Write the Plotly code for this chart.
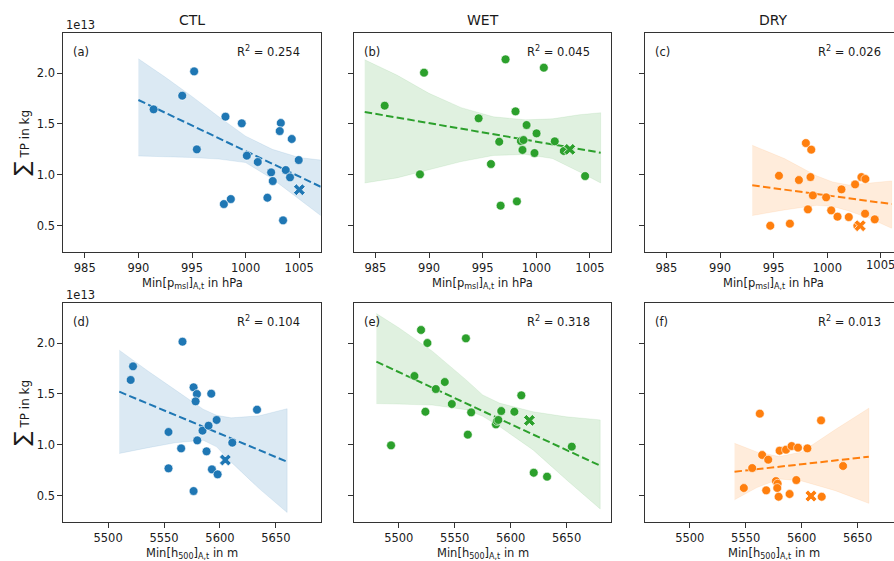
import plotly.graph_objects as go

W, H = 894, 561

# ---------------- data (TP in units of 1e13 kg) ----------------
# top row: Min p_msl (hPa)
ctl_pmsl = [991.42, 994.09, 995.2, 995.45, 998.12, 997.97, 998.62, 999.64, 1000.11, 1001.13,
            1002.03, 1002.38, 1002.53, 1003.28, 1003.18, 1003.49, 1003.74, 1004.14, 1004.30, 1004.95]
ctl_tp_p = [1.643, 1.777, 2.016, 1.25, 1.571, 0.713, 0.762, 1.506, 1.188, 1.126,
            0.775, 1.024, 0.939, 1.509, 1.430, 0.553, 1.047, 0.975, 1.352, 1.145]
ctl_cross_p = (1005.01, 0.854)

wet_pmsl = [985.86, 989.53, 989.15, 994.62, 995.77, 996.54, 996.67, 997.13, 998.06, 998.19,
            998.56, 998.81, 998.71, 999.09, 999.83, 1000.02, 1000.70, 1001.72, 1002.56, 1004.55]
wet_tp_p = [1.679, 2.003, 1.005, 1.555, 1.106, 1.325, 0.697, 2.134, 1.623, 0.739,
            1.332, 1.342, 1.244, 1.489, 1.214, 1.407, 2.052, 1.329, 1.234, 0.988]
wet_cross_p = (1003.12, 1.250)

dry_pmsl = [994.68, 995.49, 996.51, 997.35, 998.0, 998.5, 998.43, 998.19, 998.65, 999.89,
            1000.36, 1000.95, 1001.32, 1002.0, 1002.59, 1003.18, 1003.55, 1003.52, 1004.42, 1002.8]
dry_tp_p = [0.500, 0.991, 0.520, 0.949, 1.312, 1.247, 0.978, 0.661, 0.798, 0.779,
            0.651, 0.589, 0.857, 0.585, 0.906, 0.978, 0.959, 0.618, 0.563, 0.50]
dry_cross_p = (1003.06, 0.500)

# bottom row: Min h500 (m)
ctl_h500 = [5520.2, 5522.3, 5554.0, 5554.0, 5566.5, 5565.3, 5576.4, 5579.4, 5578.2, 5576.4,
            5579.7, 5584.4, 5589.8, 5588.0, 5592.2, 5592.8, 5597.0, 5597.9, 5611.0, 5633.1]
ctl_tp_h = [1.637, 1.771, 1.126, 0.769, 2.013, 0.965, 1.565, 1.499, 1.427, 0.546,
            1.044, 1.139, 1.188, 0.936, 1.502, 0.759, 1.244, 0.710, 1.021, 1.345]
ctl_cross_h = (5604.8, 0.851)

wet_h500 = [5493.1, 5514.0, 5519.9, 5525.6, 5523.8, 5533.1, 5541.1, 5547.4, 5560.0, 5561.7,
            5564.7, 5586.8, 5587.7, 5589.0, 5591.6, 5603.3, 5609.5, 5620.6, 5632.5, 5654.6]
wet_tp_h = [0.995, 1.676, 2.128, 2.0, 1.325, 1.548, 1.617, 1.401, 2.046, 1.100,
            1.319, 1.201, 1.234, 1.244, 1.332, 1.325, 1.486, 0.726, 0.687, 0.982]
wet_cross_h = (5616.7, 1.240)

dry_h500 = [5548.3, 5555.8, 5562.6, 5564.7, 5568.3, 5570.1, 5577.0, 5578.5, 5578.2, 5579.4,
            5580.3, 5586.0, 5589.2, 5591.0, 5595.2, 5596.7, 5605.1, 5617.3, 5617.9, 5637.0]
dry_tp_h = [0.576, 0.772, 1.306, 0.900, 0.553, 0.854, 0.644, 0.618, 0.576, 0.490,
            0.942, 0.952, 0.517, 0.988, 0.654, 0.972, 0.965, 1.240, 0.490, 0.792]
dry_cross_h = (5608.3, 0.497)

# regression lines (end points) and confidence bands
fit_a_x, fit_a_y = [990, 1007], [1.735, 0.883]
band_a_x = [990, 992.5, 995, 997.5, 1000, 1002.5, 1005, 1007]
band_a_hi = [2.14, 1.96, 1.77, 1.57, 1.38, 1.25, 1.17, 1.145]
band_a_lo = [1.185, 1.18, 1.17, 1.155, 1.12, 0.96, 0.76, 0.60]

fit_b_x, fit_b_y = [984, 1006], [1.617, 1.217]
band_b_x = [984, 987, 990, 993, 996, 999, 1001.5, 1004, 1006]
band_b_hi = [2.13, 1.98, 1.80, 1.66, 1.57, 1.54, 1.55, 1.59, 1.61]
band_b_lo = [0.92, 0.97, 1.05, 1.13, 1.19, 1.20, 1.16, 1.03, 0.92]

fit_c_x, fit_c_y = [993, 1006], [0.897, 0.713]
band_c_x = [993, 996, 999, 1000.5, 1002, 1004, 1006]
band_c_hi = [1.29, 1.16, 0.99, 0.93, 0.90, 0.92, 0.94]
band_c_lo = [0.60, 0.655, 0.70, 0.69, 0.645, 0.57, 0.475]

fit_d_x, fit_d_y = [5510, 5660], [1.522, 0.834]
band_d_x = [5510, 5535, 5560, 5585, 5597, 5610, 5635, 5660]
band_d_hi = [1.93, 1.73, 1.54, 1.35, 1.29, 1.265, 1.285, 1.355]
band_d_lo = [0.915, 0.97, 1.02, 1.045, 0.98, 0.83, 0.57, 0.335]

fit_e_x, fit_e_y = [5480, 5680], [1.817, 0.795]
band_e_x = [5480, 5500, 5530, 5560, 5575, 5590, 5620, 5650, 5680]
band_e_hi = [2.29, 2.15, 1.92, 1.64, 1.49, 1.41, 1.325, 1.275, 1.245]
band_e_lo = [1.405, 1.40, 1.39, 1.345, 1.28, 1.18, 0.95, 0.655, 0.37]

fit_f_x, fit_f_y = [5540, 5660], [0.736, 0.883]
band_f_x = [5540, 5560, 5580, 5600, 5630, 5660]
band_f_hi = [1.015, 0.93, 0.885, 0.93, 1.15, 1.36]
band_f_lo = [0.46, 0.58, 0.665, 0.645, 0.55, 0.425]

r2_values = ["0.254", "0.045", "0.026", "0.104", "0.318", "0.013"]
panel_tags = ["(a)", "(b)", "(c)", "(d)", "(e)", "(f)"]
col_titles = ["CTL", "WET", "DRY"]
y_ticks = [0.5, 1.0, 1.5, 2.0]
x_ticks_top = [985, 990, 995, 1000, 1005]
x_ticks_bot = [5500, 5550, 5600, 5650]

colors = ["#1f77b4", "#2ca02c", "#ff7f0e"]
fills = ["rgba(31,119,180,0.16)", "rgba(44,160,44,0.15)", "rgba(255,127,14,0.15)"]

panels = [
    (ctl_pmsl, ctl_tp_p, ctl_cross_p, fit_a_x, fit_a_y, band_a_x, band_a_hi, band_a_lo),
    (wet_pmsl, wet_tp_p, wet_cross_p, fit_b_x, fit_b_y, band_b_x, band_b_hi, band_b_lo),
    (dry_pmsl, dry_tp_p, dry_cross_p, fit_c_x, fit_c_y, band_c_x, band_c_hi, band_c_lo),
    (ctl_h500, ctl_tp_h, ctl_cross_h, fit_d_x, fit_d_y, band_d_x, band_d_hi, band_d_lo),
    (wet_h500, wet_tp_h, wet_cross_h, fit_e_x, fit_e_y, band_e_x, band_e_hi, band_e_lo),
    (dry_h500, dry_tp_h, dry_cross_h, fit_f_x, fit_f_y, band_f_x, band_f_hi, band_f_lo),
]

# ---------------- layout geometry (pixels) ----------------
col_px = [(63.3, 320.7), (354.0, 610.7), (645.0, 894.0)]
row_px = [(33.3, 251.7), (303.3, 521.7)]
full_w = 257.4
x_range_top = (983.0, 1007.0)
x_range_bot = (5460.0, 5690.0)
y_range = [0.245, 2.39]

def px_x(p):
    return p / W

def px_y(p):
    return 1 - p / H

FONT = "DejaVu Sans"
TXT = "#1a1a1a"

fig = go.Figure()
layout = dict(width=W, height=H, margin=dict(l=0, r=0, t=0, b=0),
              plot_bgcolor="white", paper_bgcolor="white", showlegend=False,
              font=dict(family=FONT, size=12, color=TXT))
annotations = []

for i, (xs, ys, cross, fx, fy, bx, bhi, blo) in enumerate(panels):
    r, c = divmod(i, 3)
    ax = "" if i == 0 else str(i + 1)
    xref, yref = "x" + ax, "y" + ax
    col = colors[c]
    x0p, x1p = col_px[c]
    y0p, y1p = row_px[r]
    xr = x_range_top if r == 0 else x_range_bot
    span = (xr[1] - xr[0]) * (x1p - x0p) / full_w
    rng = [xr[0], xr[0] + span]

    fig.add_trace(go.Scatter(x=bx + bx[::-1], y=bhi + blo[::-1], fill="toself",
                             fillcolor=fills[c], line=dict(width=0.6, color=fills[c]),
                             mode="lines", hoverinfo="skip", xaxis=xref, yaxis=yref))
    fig.add_trace(go.Scatter(x=fx, y=fy, mode="lines",
                             line=dict(color=col, width=2, dash="7.5px,3.3px"),
                             xaxis=xref, yaxis=yref))
    fig.add_trace(go.Scatter(x=xs, y=ys, mode="markers",
                             marker=dict(color=col, size=8.8, line=dict(color="white", width=0.6)),
                             xaxis=xref, yaxis=yref))
    fig.add_trace(go.Scatter(x=[cross[0]], y=[cross[1]], mode="markers",
                             marker=dict(color=col, symbol="x", size=10.5,
                                         line=dict(color="white", width=0.8)),
                             xaxis=xref, yaxis=yref))

    layout["xaxis" + ax] = dict(
        domain=[px_x(x0p), px_x(x1p)], range=rng, anchor=yref,
        tickvals=x_ticks_top if r == 0 else x_ticks_bot,
        ticks="outside", ticklen=5, tickwidth=1, tickcolor="#333",
        showline=True, linecolor="#333", linewidth=1, mirror=True,
        showgrid=False, zeroline=False,
        tickfont=dict(family=FONT, size=11.5, color=TXT))
    layout["yaxis" + ax] = dict(
        domain=[px_y(y1p), px_y(y0p)], range=y_range, anchor=xref,
        tickvals=y_ticks, tickformat=".1f", showticklabels=(c == 0),
        ticks="outside", ticklen=5, tickwidth=1, tickcolor="#333",
        showline=True, linecolor="#333", linewidth=1, mirror=(c != 2),
        showgrid=False, zeroline=False,
        tickfont=dict(family=FONT, size=11.5, color=TXT))

    # panel tag and R^2
    annotations.append(dict(x=px_x(x0p + 8), y=px_y(y0p + 19), xref="paper", yref="paper",
                            text=panel_tags[i], showarrow=False, xanchor="left", yanchor="middle",
                            font=dict(size=11.5, color=TXT)))
    annotations.append(dict(x=px_x(x0p + full_w - 19), y=px_y(y0p + 18), xref="paper", yref="paper",
                            text="R<sup>2</sup> = " + r2_values[i], showarrow=False,
                            xanchor="right", yanchor="middle", font=dict(size=11.5, color=TXT)))

# tick label at the clipped right edge of panel (c), partially outside the page
annotations.append(dict(x=x_ticks_top[-1], y=px_y(265), xref="x3", yref="paper",
                        text=str(x_ticks_top[-1]), showarrow=False, xanchor="center",
                        yanchor="middle", font=dict(size=11.5, color=TXT)))

# column titles
for c, t in enumerate(col_titles):
    cx = col_px[c][0] + full_w / 2
    annotations.append(dict(x=px_x(cx), y=px_y(20.5), xref="paper", yref="paper", text=t,
                            showarrow=False, xanchor="center", yanchor="middle",
                            font=dict(size=14, color=TXT)))
    # x axis labels
    annotations.append(dict(x=px_x(cx), y=px_y(283), xref="paper", yref="paper",
                            text="Min[p<sub>msl</sub>]<sub>A,t</sub> in hPa", showarrow=False,
                            xanchor="center", yanchor="middle", font=dict(size=11.5, color=TXT)))
    annotations.append(dict(x=px_x(cx), y=px_y(553), xref="paper", yref="paper",
                            text="Min[h<sub>500</sub>]<sub>A,t</sub> in m", showarrow=False,
                            xanchor="center", yanchor="middle", font=dict(size=11.5, color=TXT)))

# offset text and y labels
for r in range(2):
    y0p, y1p = row_px[r]
    annotations.append(dict(x=px_x(63.5), y=px_y(y0p - 8), xref="paper", yref="paper",
                            text="1e13", showarrow=False, xanchor="left", yanchor="middle",
                            font=dict(size=11.5, color=TXT)))
    annotations.append(dict(x=px_x(21), y=px_y((y0p + y1p) / 2), xref="paper", yref="paper",
                            text="<span style='font-size:21px'>∑</span> TP in kg", textangle=-90,
                            showarrow=False, xanchor="center", yanchor="middle",
                            font=dict(size=12, color=TXT)))

layout["annotations"] = annotations
fig.update_layout(**layout)
fig.write_html("out.html")
